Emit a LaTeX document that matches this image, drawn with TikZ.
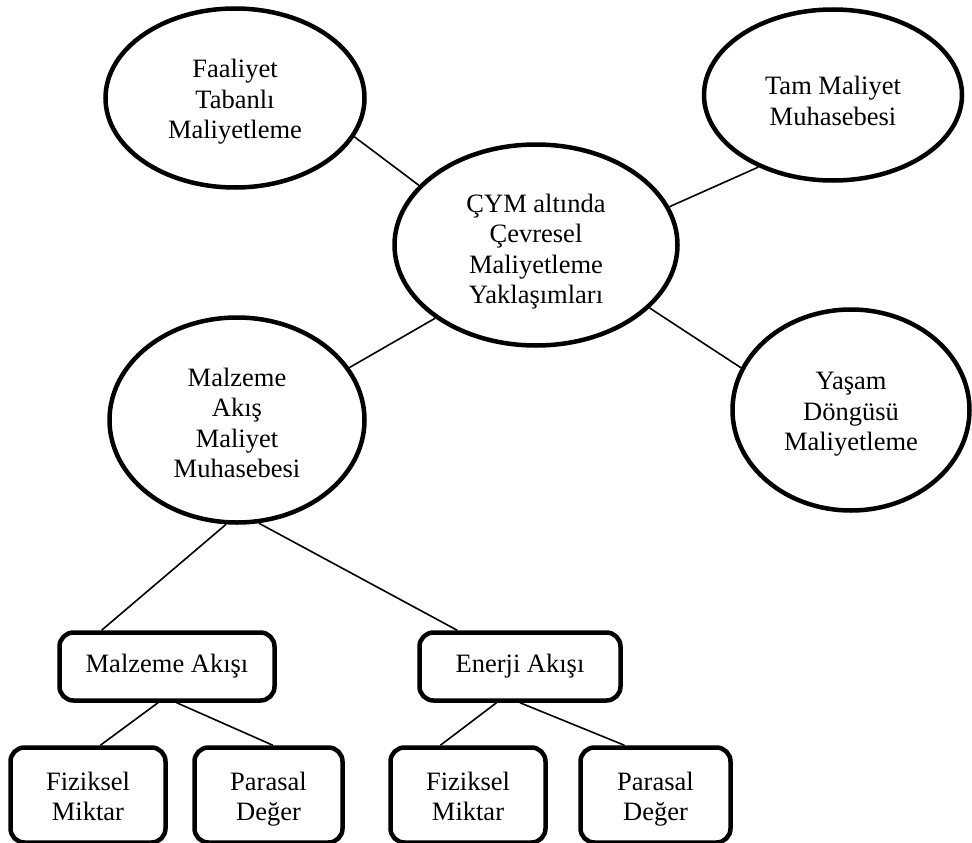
\documentclass[tikz,border=0pt]{standalone}
\usepackage{fontspec}
\setmainfont{Liberation Serif}
\usetikzlibrary{shapes.geometric}
% invisible struts that set where the lines sit inside a shape
\newcommand\padtop[1]{\rule{0pt}{#1}}
\newcommand\padlow[1]{\rule[-#1]{0pt}{#1}}
\begin{document}
\begin{tikzpicture}[x=1pt,y=-1pt,
  every node/.style={font=\fontsize{26.5}{30.5}\selectfont, align=center, inner sep=0pt},
  bubble/.style={ellipse, draw, line width=4.5pt},
  tag/.style={rectangle, draw, line width=4.5pt, rounded corners=14pt},
  link/.style={line width=1.6pt}]
\useasboundingbox (0,0) rectangle (972,843);

% approaches (ellipses)
\node[bubble, minimum width=259pt, minimum height=179pt] (ftm) at (235,98) {\padtop{26pt}Faaliyet\\Tabanlı\\Maliyetleme};
\node[bubble, minimum width=258pt, minimum height=171pt] (tmm) at (833,95) {\padtop{30pt}Tam Maliyet\\Muhasebesi};
\node[bubble, minimum width=283pt, minimum height=201pt] (cym) at (536,245) {\padtop{32pt}ÇYM altında\\Çevresel\\Maliyetleme\\Yaklaşımları};
\node[bubble, minimum width=255pt, minimum height=205pt] (mamm) at (237,420) {\padtop{24pt}Malzeme\\Akış\\Maliyet\\Muhasebesi};
\node[bubble, minimum width=237pt, minimum height=201pt] (ydm) at (851,410) {\padtop{26pt}Yaşam\\Döngüsü\\Maliyetleme};

% flows and measures (rounded boxes)
\node[tag, minimum width=215pt, minimum height=68pt] (ma) at (167,666.5) {Malzeme Akışı};
\node[tag, minimum width=201pt, minimum height=68pt] (ea) at (520,666.5) {Enerji Akışı};
\node[tag, minimum width=155pt, minimum height=95pt] (fm1) at (88,795) {\padtop{26.5pt}Fiziksel\\Miktar\padlow{6pt}};
\node[tag, minimum width=148pt, minimum height=95pt] (pd1) at (268.5,795) {\padtop{26.5pt}Parasal\\Değer\padlow{6pt}};
\node[tag, minimum width=155pt, minimum height=95pt] (fm2) at (468,795) {\padtop{26.5pt}Fiziksel\\Miktar\padlow{6pt}};
\node[tag, minimum width=150pt, minimum height=95pt] (pd2) at (655.5,795) {\padtop{26.5pt}Parasal\\Değer\padlow{6pt}};

% connectors
\draw[link] (ftm.-18.3) -- (cym.153.6);
\draw[link] (tmm.224) -- (cym.16.4);
\draw[link] (cym.216) -- (mamm.25);
\draw[link] (cym.-29.7) -- (ydm.159.3);
\draw[link] (mamm.-96.3) -- (ma.151.7);
\draw[link] (mamm.-78.9) -- (ea.150.3);
\draw[link] (ma.-104.7) -- (fm1.76.2);
\draw[link] (ma.-75.3) -- (pd1.85.9);
\draw[link] (ea.-123.3) -- (fm2.119.7);
\draw[link] (ea.south) -- (pd2.122.8);
\end{tikzpicture}
\end{document}
